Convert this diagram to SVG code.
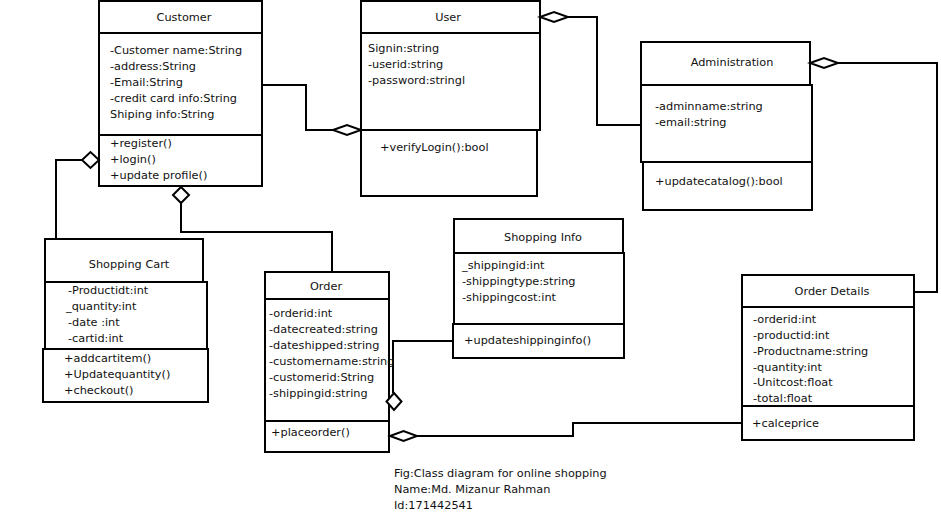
<svg xmlns="http://www.w3.org/2000/svg" width="941" height="513" viewBox="0 0 941 513">
<style>
  .box { fill: #fff; stroke: #000; stroke-width: 2; }
  .t { font-family: "DejaVu Sans", Verdana, sans-serif; font-size: 11.3px; fill: #111; }
  .title { text-anchor: middle; }
  .conn { fill: none; stroke: #000; stroke-width: 2; }
  .dia { fill: #fff; stroke: #000; stroke-width: 2; }
</style>
<rect x="0" y="0" width="941" height="513" fill="#fff"/>

<g id="connectors">
  <polyline class="conn" points="262,85 306,85 306,130 333,130"/>
  <polyline class="conn" points="568,17 597,17 597,125 641,125"/>
  <polyline class="conn" points="838,63 937,63 937,292 914,292"/>
  <polyline class="conn" points="82,160 56,160 56,239"/>
  <polyline class="conn" points="181,203 181,232 332,232 332,272"/>
  <polyline class="conn" points="454,341 393,341 393,393"/>
  <polyline class="conn" points="417,436 573,436 573,423 742,423"/>
</g>

<g id="customer">
  <rect class="box" x="99" y="1" width="163" height="32"/>
  <rect class="box" x="99" y="33" width="163" height="102"/>
  <rect class="box" x="99" y="135" width="163" height="51"/>
  <text class="t title" x="184" y="21">Customer</text>
  <text class="t" x="110" y="54">-Customer name:String</text>
  <text class="t" x="110" y="70">-address:String</text>
  <text class="t" x="110" y="86">-Email:String</text>
  <text class="t" x="110" y="102">-credit card info:String</text>
  <text class="t" x="110" y="118">Shiping info:String</text>
  <text class="t" x="110" y="147">+register()</text>
  <text class="t" x="110" y="163">+login()</text>
  <text class="t" x="110" y="179">+update profile()</text>
</g>

<g id="user">
  <rect class="box" x="361" y="1" width="179" height="32"/>
  <rect class="box" x="361" y="33" width="179" height="97"/>
  <rect class="box" x="361" y="130" width="176" height="66"/>
  <text class="t title" x="448" y="21">User</text>
  <text class="t" x="368" y="52">Signin:string</text>
  <text class="t" x="368" y="68">-userid:string</text>
  <text class="t" x="368" y="84">-password:stringl</text>
  <text class="t" x="380" y="151">+verifyLogin():bool</text>
</g>

<g id="administration">
  <rect class="box" x="641" y="42" width="169" height="43"/>
  <rect class="box" x="641" y="85" width="171" height="77"/>
  <rect class="box" x="643" y="162" width="169" height="48"/>
  <text class="t title" x="732" y="66">Administration</text>
  <text class="t" x="655" y="110">-adminname:string</text>
  <text class="t" x="655" y="126">-email:string</text>
  <text class="t" x="655" y="185">+updatecatalog():bool</text>
</g>

<g id="shopping-cart">
  <rect class="box" x="45" y="239" width="158" height="43"/>
  <rect class="box" x="45" y="282" width="162" height="67"/>
  <rect class="box" x="43" y="349" width="165" height="53"/>
  <text class="t title" x="129" y="268">Shopping Cart</text>
  <text class="t" x="68" y="294">-Productidt:int</text>
  <text class="t" x="66" y="310">_quantity:int</text>
  <text class="t" x="68" y="326">-date :int</text>
  <text class="t" x="68" y="342">-cartid:int</text>
  <text class="t" x="64" y="362">+addcartitem()</text>
  <text class="t" x="64" y="378">+Updatequantity()</text>
  <text class="t" x="64" y="394">+checkout()</text>
</g>

<g id="order">
  <rect class="box" x="265" y="272" width="124" height="27"/>
  <rect class="box" x="265" y="299" width="124" height="122"/>
  <rect class="box" x="265" y="421" width="124" height="31"/>
  <text class="t title" x="326" y="290">Order</text>
  <text class="t" x="269" y="317">-orderid:int</text>
  <text class="t" x="269" y="333">-datecreated:string</text>
  <text class="t" x="269" y="349">-dateshipped:string</text>
  <text class="t" x="269" y="365">-customername:string</text>
  <text class="t" x="269" y="381">-customerid:String</text>
  <text class="t" x="269" y="397">-shippingid:string</text>
  <text class="t" x="271" y="436">+placeorder()</text>
</g>

<g id="shopping-info">
  <rect class="box" x="454" y="219" width="169" height="34"/>
  <rect class="box" x="454" y="253" width="170" height="71"/>
  <rect class="box" x="453" y="324" width="171" height="34"/>
  <text class="t title" x="543" y="241">Shopping Info</text>
  <text class="t" x="462" y="269">_shippingid:int</text>
  <text class="t" x="462" y="285">-shippingtype:string</text>
  <text class="t" x="462" y="301">-shippingcost:int</text>
  <text class="t" x="464" y="344">+updateshippinginfo()</text>
</g>

<g id="order-details">
  <rect class="box" x="742" y="275" width="172" height="32"/>
  <rect class="box" x="742" y="307" width="172" height="99"/>
  <rect class="box" x="742" y="406" width="172" height="34"/>
  <text class="t title" x="832" y="295">Order Details</text>
  <text class="t" x="753" y="323">-orderid:int</text>
  <text class="t" x="753" y="339">-productid:int</text>
  <text class="t" x="753" y="355">-Productname:string</text>
  <text class="t" x="753" y="371">-quantity:int</text>
  <text class="t" x="753" y="386">-Unitcost:float</text>
  <text class="t" x="753" y="402">-total:float</text>
  <text class="t" x="752" y="427">+calceprice</text>
</g>

<g id="diamonds">
  <polygon class="dia" points="333,130 347,125 361,130 347,135"/>
  <polygon class="dia" points="540,17 554,12 568,17 554,22"/>
  <polygon class="dia" points="810,63 824,58 838,63 824,68"/>
  <polygon class="dia" points="82,160 90.5,152 99,160 90.5,168"/>
  <polygon class="dia" points="181,187 189,195 181,203 173,195"/>
  <polygon class="dia" points="394,393 401.5,401.5 394,410 386.5,401.5"/>
  <polygon class="dia" points="390,436 403.5,431 417,436 403.5,441"/>
</g>

<g id="caption">
  <text class="t" x="394" y="477">Fig:Class diagram for online shopping</text>
  <text class="t" x="394" y="493">Name:Md. Mizanur Rahman</text>
  <text class="t" x="394" y="509">Id:171442541</text>
</g>
</svg>
